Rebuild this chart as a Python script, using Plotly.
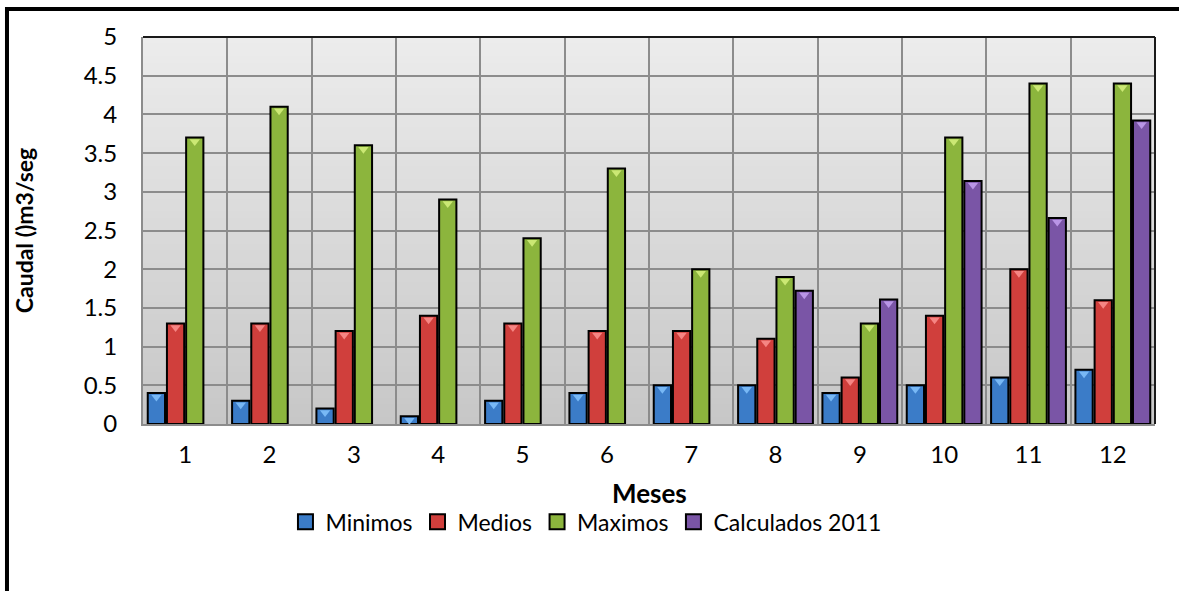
import plotly.graph_objects as go

# Monthly flow data (m3/seg)
meses = [1, 2, 3, 4, 5, 6, 7, 8, 9, 10, 11, 12]
minimos = [0.4, 0.3, 0.2, 0.1, 0.3, 0.4, 0.5, 0.5, 0.4, 0.5, 0.6, 0.7]
medios = [1.3, 1.3, 1.2, 1.4, 1.3, 1.2, 1.2, 1.1, 0.6, 1.4, 2.0, 1.6]
maximos = [3.7, 4.1, 3.6, 2.9, 2.4, 3.3, 2.0, 1.9, 1.3, 3.7, 4.4, 4.4]
calculados_2011 = [None, None, None, None, None, None, None, 1.72, 1.61, 3.14, 2.66, 3.92]

series_names = ["Minimos", "Medios", "Maximos", "Calculados 2011"]
series_values = [minimos, medios, maximos, calculados_2011]
bar_colors = ["#3b7cc8", "#d03f3c", "#8cb53d", "#7a55a6"]
tip_colors = ["#78b8f5", "#f58583", "#cbe874", "#b995e6"]
y_ticks = [0, 0.5, 1, 1.5, 2, 2.5, 3, 3.5, 4, 4.5, 5]

FONT = "Lato"
BAR_GAP = 0.09
GROUP_GAP = 0.1

fig = go.Figure()

for name, vals, col in zip(series_names, series_values, bar_colors):
    fig.add_trace(go.Bar(
        x=meses, y=vals, name=name, legendgroup=name, showlegend=False,
        marker=dict(color=col, line=dict(color="#000000", width=2)),
    ))

# light bevel tips on top of each bar (drawn on a slightly shifted overlay axis)
slot = (1 - BAR_GAP) / len(series_names)
for i, (vals, tip) in enumerate(zip(series_values, tip_colors)):
    xs, ys = [], []
    for m, v in zip(meses, vals):
        if v is None:
            continue
        xs.append(m + (i - 1.5) * slot)
        ys.append(v)
    fig.add_trace(go.Scatter(
        x=xs, y=ys, mode="markers", yaxis="y2", showlegend=False,
        hoverinfo="skip",
        marker=dict(symbol="triangle-down", size=9, color=tip, line=dict(width=0)),
    ))

# legend keys: square swatches with a dark outline
for name, col in zip(series_names, bar_colors):
    fig.add_trace(go.Scatter(
        x=[None], y=[None], mode="markers", name=name, legendgroup=name,
        marker=dict(symbol="square", size=15, color=col,
                    line=dict(color="#000000", width=2)),
    ))

# plot-area background: vertical gradient
n_strips = 60
top_rgb = (236, 236, 236)
bot_rgb = (199, 199, 199)
for k in range(n_strips):
    t = k / (n_strips - 1)
    c = tuple(round(bot_rgb[j] + (top_rgb[j] - bot_rgb[j]) * t) for j in range(3))
    fig.add_shape(type="rect", xref="paper", yref="paper",
                  x0=0, x1=1, y0=k / n_strips, y1=(k + 1) / n_strips + 0.002,
                  fillcolor="rgb(%d,%d,%d)" % c, line=dict(width=0), layer="below")

# plot-area border: dark top/right edges
fig.add_shape(type="line", xref="paper", yref="paper", x0=0, x1=1, y0=1, y1=1,
              line=dict(color="#1a1a1a", width=2), layer="above")
fig.add_shape(type="line", xref="paper", yref="paper", x0=1, x1=1, y0=0, y1=1,
              line=dict(color="#1a1a1a", width=2), layer="above")

# outer chart frame
fig.add_shape(type="rect", xref="paper", yref="paper",
              x0=-0.1344, x1=1.3, y0=1.0725, y1=-0.6,
              line=dict(color="#000000", width=4), fillcolor="rgba(0,0,0,0)",
              layer="above")

# x-axis title
fig.add_annotation(text="<b>Meses</b>", xref="paper", yref="paper",
                   x=0.5, y=-0.178, xanchor="center", yanchor="middle",
                   showarrow=False, font=dict(family=FONT, size=26, color="#000000"))

PX_PER_UNIT = 387 / 5
shift = 4 / PX_PER_UNIT

fig.update_layout(
    width=1179, height=591,
    margin=dict(l=143, r=24, t=37, b=167, autoexpand=False),
    paper_bgcolor="#ffffff",
    plot_bgcolor="#dcdcdc",
    barmode="group",
    bargap=BAR_GAP,
    bargroupgap=GROUP_GAP,
    font=dict(family=FONT, size=22, color="#000000"),
    xaxis=dict(
        range=[0.5, 12.5],
        automargin=False,
        tickvals=meses,
        ticktext=[str(m) for m in meses],
        showgrid=False,
        showline=True, linecolor="#8c8c8c", linewidth=2,
        ticks="", ticklabelstandoff=8,
        tickfont=dict(size=24),
        minor=dict(tickvals=[m + 0.5 for m in range(0, 13)], showgrid=True,
                   gridcolor="#8c8c8c", gridwidth=2, ticks=""),
    ),
    yaxis=dict(
        range=[0, 5],
        automargin=False,
        tickvals=y_ticks,
        ticktext=[("%g" % v) for v in y_ticks],
        showgrid=True, gridcolor="#8c8c8c", gridwidth=2,
        zeroline=False,
        showline=True, linecolor="#8c8c8c", linewidth=2,
        ticks="", ticklabelstandoff=19,
        tickfont=dict(size=24),
        title=dict(text="<b>Caudal ()m3/seg</b>", font=dict(size=23), standoff=44),
    ),
    yaxis2=dict(
        overlaying="y", range=[shift, 5 + shift], visible=False,
    ),
    legend=dict(
        orientation="h", xref="container", yref="container",
        x=0.497, xanchor="center", y=0.117, yanchor="middle",
        font=dict(size=23), itemwidth=30, traceorder="normal",
    ),
    showlegend=True,
)

fig.write_html("out.html")
